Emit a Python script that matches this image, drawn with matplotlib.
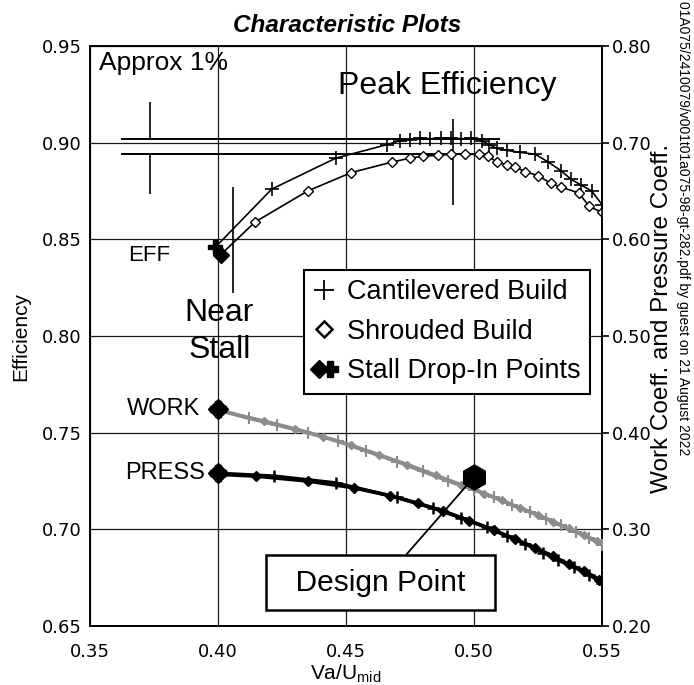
import matplotlib
matplotlib.use("Agg")
import matplotlib.pyplot as plt
from matplotlib.lines import Line2D
from matplotlib.legend_handler import HandlerTuple

# efficiency - cantilevered build (first point = stall drop-in)
cant_va = [0.399, 0.421, 0.446, 0.466, 0.471, 0.475, 0.479, 0.483, 0.487, 0.491, 0.495, 0.499,
           0.503, 0.506, 0.509, 0.513, 0.518, 0.524, 0.529, 0.534, 0.538, 0.542, 0.546, 0.550]
cant_eff = [0.846, 0.876, 0.892, 0.899, 0.901, 0.9015, 0.9025, 0.902, 0.9025, 0.9025, 0.902, 0.9025,
            0.901, 0.899, 0.897, 0.896, 0.895, 0.894, 0.890, 0.8855, 0.881, 0.878, 0.875, 0.868]

# efficiency - shrouded build
shr_va = [0.401, 0.4145, 0.435, 0.452, 0.468, 0.475, 0.480, 0.486, 0.491, 0.4965, 0.502,
          0.5055, 0.509, 0.513, 0.516, 0.520, 0.525, 0.530, 0.534, 0.541, 0.545, 0.550]
shr_eff = [0.842, 0.859, 0.875, 0.8845, 0.890, 0.892, 0.893, 0.8935, 0.894, 0.894, 0.894,
           0.893, 0.890, 0.8885, 0.8875, 0.885, 0.883, 0.879, 0.877, 0.874, 0.867, 0.864]

# work coefficient
cant_work_va = [0.400, 0.412, 0.423, 0.435, 0.447, 0.458, 0.470, 0.480, 0.490, 0.500, 0.508,
                0.515, 0.522, 0.528, 0.534, 0.540, 0.545, 0.550]
cant_work = [0.424, 0.415, 0.408, 0.400, 0.391, 0.381, 0.370, 0.360, 0.350, 0.341, 0.333,
             0.325, 0.318, 0.311, 0.304, 0.297, 0.291, 0.284]
shr_work_va = [0.400, 0.418, 0.430, 0.441, 0.452, 0.463, 0.474, 0.485, 0.495, 0.504, 0.511,
               0.518, 0.525, 0.531, 0.537, 0.543, 0.548, 0.551]
shr_work = [0.423, 0.412, 0.404, 0.396, 0.387, 0.377, 0.367, 0.356, 0.346, 0.337, 0.330,
            0.322, 0.315, 0.308, 0.301, 0.294, 0.288, 0.283]

# pressure coefficient
cant_press_va = [0.400, 0.422, 0.446, 0.470, 0.484, 0.495, 0.505, 0.513, 0.520, 0.527,
                 0.533, 0.539, 0.545, 0.550]
cant_press = [0.358, 0.355, 0.348, 0.333, 0.322, 0.312, 0.302, 0.293, 0.285, 0.276,
              0.268, 0.261, 0.253, 0.245]
shr_press_va = [0.400, 0.415, 0.435, 0.453, 0.467, 0.478, 0.488, 0.498, 0.508, 0.516,
                0.524, 0.531, 0.537, 0.543, 0.549, 0.551]
shr_press = [0.357, 0.355, 0.350, 0.343, 0.335, 0.327, 0.319, 0.309, 0.299, 0.290,
             0.281, 0.272, 0.264, 0.257, 0.248, 0.243]

design_va = 0.50
design_coeff = 0.354

peak_eff = [0.902, 0.894]

eff_ticks = [0.65, 0.70, 0.75, 0.80, 0.85, 0.90, 0.95]
coeff_ticks = [0.20, 0.30, 0.40, 0.50, 0.60, 0.70, 0.80]
va_ticks = [0.35, 0.40, 0.45, 0.50, 0.55]

SANS = "Liberation Sans"
NUM = "DejaVu Sans"

fig = plt.figure(figsize=(6.94, 6.85), dpi=100)
ax = fig.add_axes([0.1297, 0.0861, 0.7377, 0.8467])
ax.set_xlim(0.35, 0.55)
ax.set_ylim(0.65, 0.95)
ax.set_xticks(va_ticks)
ax.set_xticklabels([f"{v:.2f}" for v in va_ticks], family=NUM, fontsize=13)
ax.set_yticks(eff_ticks)
ax.set_yticklabels([f"{v:.2f}" for v in eff_ticks], family=NUM, fontsize=13)
ax.tick_params(axis="both", length=0)
ax.tick_params(axis="x", pad=12)
ax.tick_params(axis="y", pad=6)
ax.grid(True, color="#1a1a1a", lw=0.9)
for s in ax.spines.values():
    s.set_linewidth(1.2)

ax.set_ylabel("Efficiency", family=SANS, fontsize=15, labelpad=8)
ax.set_xlabel("Va/U$_{\\mathregular{mid}}$", family=SANS, fontsize=15, labelpad=1)

# efficiency curves
ax.plot(cant_va, cant_eff, color="k", lw=1.2, marker="+", ms=10, mew=1.2, zorder=3)
ax.plot(shr_va, shr_eff, color="k", lw=1.2, marker="D", ms=5, mfc="white", mew=1.0, zorder=3)
ax.plot(cant_va[0], cant_eff[0], marker="P", ms=10, color="k", zorder=4)
ax.plot(shr_va[0], shr_eff[0], marker="D", ms=8, color="k", zorder=4)

# peak efficiency band and markers
ax.hlines(peak_eff, 0.362, [0.51, 0.505], color="k", lw=1.4, zorder=2)
ax.vlines(0.3734, peak_eff[0], 0.921, color="k", lw=1.2)
ax.vlines(0.3734, 0.8735, peak_eff[1], color="k", lw=1.2)
ax.vlines(0.4918, 0.868, 0.912, color="k", lw=1.2)
ax.vlines(0.4059, 0.8224, 0.877, color="k", lw=1.2)

ax.text(0.3535, 0.9414, "Approx 1%", family=SANS, fontsize=19, va="center", ha="left")
ax.text(0.447, 0.9295, "Peak Efficiency", family=SANS, fontsize=23, va="center", ha="left")
ax.text(0.4005, 0.8025, "Near\nStall", family=SANS, fontsize=23, va="center", ha="center",
        linespacing=1.3)
ax.text(0.3648, 0.8416, "EFF", family=SANS, fontsize=16, va="center", ha="left")
ax.text(0.3930, 0.762, "WORK", family=SANS, fontsize=17, va="center", ha="right")
ax.text(0.3949, 0.7289, "PRESS", family=SANS, fontsize=17, va="center", ha="right")

# right axis: work and pressure coefficients
ax2 = ax.twinx()
ax2.set_ylim(0.20, 0.80)
ax2.set_yticks(coeff_ticks)
ax2.set_yticklabels([f"{v:.2f}" for v in coeff_ticks], family=NUM, fontsize=13)
ax2.tick_params(axis="y", direction="out", length=5, width=1.2, pad=2)
ax2.set_ylabel("Work Coeff. and Pressure Coeff.", family=SANS, fontsize=17.5)
ax2.yaxis.set_label_coords(1.095, 0.53)
for s in ax2.spines.values():
    s.set_linewidth(1.2)

grey = "#8c8c8c"
ax2.plot(cant_work_va, cant_work, color=grey, lw=2.6, marker="+", ms=8, mew=1.5, zorder=3)
ax2.plot(shr_work_va, shr_work, color=grey, lw=2.6, marker="D", ms=4.5, mfc=grey, zorder=3)
ax2.plot(cant_press_va, cant_press, color="k", lw=2.6, marker="+", ms=8, mew=1.8, zorder=3)
ax2.plot(shr_press_va, shr_press, color="k", lw=2.6, marker="D", ms=5, zorder=3)
ax2.plot(cant_work_va[0], cant_work[0], marker="D", ms=10, color="k", zorder=4)
ax2.plot(cant_work_va[0], cant_work[0], marker="P", ms=11, color="k", zorder=4)
ax2.plot(cant_press_va[0], cant_press[0], marker="D", ms=10, color="k", zorder=4)
ax2.plot(cant_press_va[0], cant_press[0], marker="P", ms=11, color="k", zorder=4)

ax2.annotate("  Design Point  ", xy=(design_va, design_coeff), xytext=(0.4635, 0.245),
             textcoords="data", family=SANS, fontsize=21.5, ha="center", va="center",
             bbox=dict(boxstyle="square,pad=0.45", fc="white", ec="k", lw=1.8),
             arrowprops=dict(arrowstyle="-", lw=1.3, color="k", relpos=(0.567, 1.0),
                             shrinkA=0, shrinkB=0),
             zorder=5)
ax2.plot(design_va, design_coeff, marker="h", ms=18, color="k", zorder=6)

# legend
h_cant = Line2D([], [], ls="none", marker="+", color="k", ms=15, mew=1.3)
h_shr = Line2D([], [], ls="none", marker="D", mfc="white", mec="k", ms=8, mew=1.8)
h_stall = (Line2D([], [], ls="none", marker="D", color="k", ms=9),
           Line2D([], [], ls="none", marker="P", color="k", ms=12))
leg = ax2.legend([h_cant, h_shr, h_stall],
                 ["Cantilevered Build", "Shrouded Build", "Stall Drop-In Points"],
                 handler_map={tuple: HandlerTuple(ndivide=None, pad=0)},
                 loc="upper left", bbox_to_anchor=(0.418, 0.614), borderaxespad=0,
                 frameon=True, fancybox=False, edgecolor="k", framealpha=1,
                 prop={"family": SANS, "size": 19.5}, handlelength=0.8,
                 handletextpad=0.45, borderpad=0.35, labelspacing=0.5)
leg.get_frame().set_linewidth(1.5)
leg.set_zorder(7)

fig.text(0.5, 0.9635, "Characteristic Plots", family=SANS, fontsize=17.5,
         fontweight="bold", fontstyle="italic", ha="center", va="center",
         transform=fig.transFigure)
fig.text(0.984, 0.998, "01A075/2410079/v001t01a075-98-gt-282.pdf by guest on 21 August 2022",
         family=SANS, fontsize=10, rotation=270, ha="center", va="top")

fig.savefig("out.png", dpi=100)
